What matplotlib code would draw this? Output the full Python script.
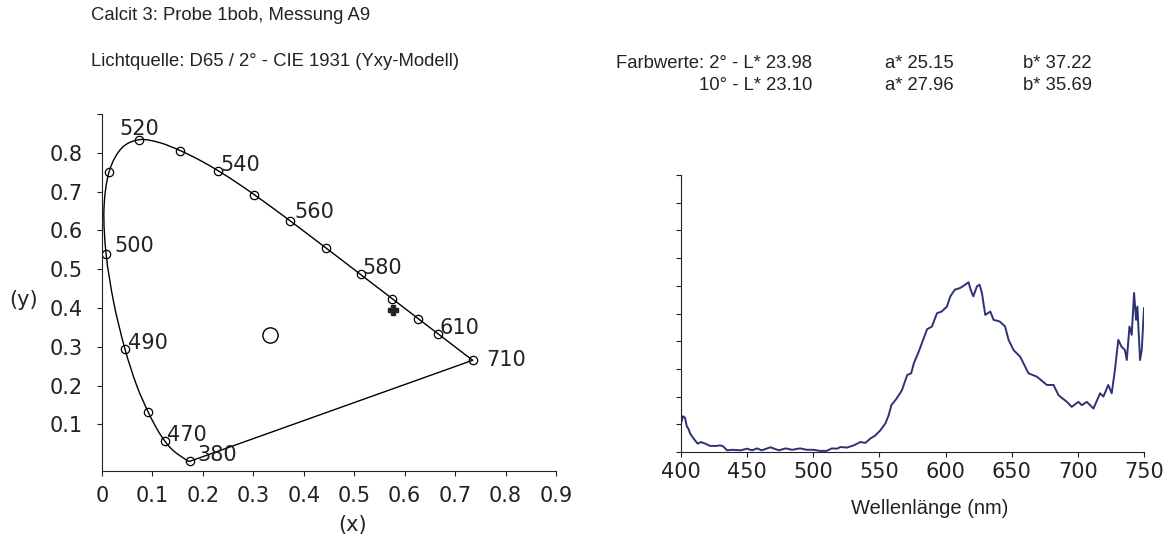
import matplotlib.pyplot as plt
import numpy as np
from matplotlib.path import Path
from matplotlib.patches import PathPatch

# CIE 1931 spectral locus (x, y) used for the horseshoe curve
locus_nm = [380, 390, 400, 410, 420, 425, 430, 435, 440, 445, 450, 455, 460, 465,
            470, 475, 480, 485, 490, 495, 500, 505, 510, 515, 520, 525, 530, 535,
            540, 545, 550, 555, 560, 565, 570, 575, 580, 585, 590, 595, 600, 605,
            610, 620, 630, 640, 650, 660, 680, 710]
locus_x = [0.1741, 0.1738, 0.1733, 0.1726, 0.1714, 0.1703, 0.1689, 0.1669, 0.1644, 0.1611,
           0.1566, 0.1510, 0.1440, 0.1355, 0.1241, 0.1096, 0.0913, 0.0687, 0.0454, 0.0235,
           0.0082, 0.0039, 0.0139, 0.0389, 0.0743, 0.1142, 0.1547, 0.1929, 0.2296, 0.2658,
           0.3016, 0.3373, 0.3731, 0.4087, 0.4441, 0.4788, 0.5125, 0.5448, 0.5752, 0.6029,
           0.6270, 0.6482, 0.6658, 0.6915, 0.7079, 0.7190, 0.7260, 0.7300, 0.7334, 0.7347]
locus_y = [0.0050, 0.0049, 0.0048, 0.0048, 0.0051, 0.0058, 0.0069, 0.0086, 0.0109, 0.0138,
           0.0177, 0.0227, 0.0297, 0.0399, 0.0578, 0.0868, 0.1327, 0.2007, 0.2950, 0.4127,
           0.5384, 0.6548, 0.7502, 0.8120, 0.8338, 0.8262, 0.8059, 0.7816, 0.7543, 0.7243,
           0.6923, 0.6589, 0.6245, 0.5896, 0.5547, 0.5202, 0.4866, 0.4544, 0.4242, 0.3965,
           0.3725, 0.3514, 0.3340, 0.3083, 0.2920, 0.2809, 0.2740, 0.2700, 0.2666, 0.2653]

marker_nm = [380, 470, 480, 490, 500, 510, 520, 530, 540, 550, 560, 570, 580, 590, 600, 610, 710]
label_nm = [380, 470, 490, 500, 520, 540, 560, 580, 610, 710]

white_point = (0.3333, 0.3300)
sample_point = (0.577, 0.394)

# reflectance spectrum (arbitrary units)
wl = [400, 401.5, 403, 404.5, 405.5, 407, 409.6, 412.6, 415, 418.4, 422, 427, 429.7, 432,
      434.8, 438.6, 445, 450, 453.7, 457.5, 461, 467.6, 474, 479, 484, 490, 495, 500,
      505, 510, 514, 518, 520.5, 525.5, 530.6, 535.6, 539.4, 543, 547, 550.8, 554.5,
      557, 559, 563, 567, 571, 574, 576, 579.7, 586, 589.7, 593.5, 597, 601, 603.6,
      607, 611, 613.6, 617.4, 619, 621, 623.7, 625.7, 627.5, 630, 633.8, 636.3, 641,
      645, 647.6, 651.4, 656.4, 662.7, 669, 676.6, 681.6, 685.4, 691.7, 695.4, 700.4,
      703, 706.7, 711.8, 716.8, 719.3, 723, 725.6, 728, 730.6, 733, 735.6, 737, 739,
      740.7, 742.5, 744, 745, 747, 748.3, 750]
refl = [1.03, 1.29, 1.24, 0.91, 0.85, 0.66, 0.48, 0.30, 0.36, 0.30, 0.22, 0.22, 0.24, 0.20,
        0.06, 0.08, 0.06, 0.12, 0.06, 0.13, 0.06, 0.17, 0.06, 0.13, 0.08, 0.13, 0.08, 0.08,
        0.04, 0.04, 0.13, 0.12, 0.18, 0.16, 0.24, 0.36, 0.33, 0.48, 0.60, 0.79, 1.03,
        1.33, 1.69, 1.93, 2.23, 2.78, 2.84, 3.20, 3.62, 4.43, 4.53, 5.01, 5.07, 5.25, 5.62,
        5.86, 5.92, 6.00, 6.13, 5.85, 5.62, 5.98, 6.04, 5.74, 4.95, 5.07, 4.77, 4.71,
        4.53, 4.05, 3.68, 3.44, 2.84, 2.72, 2.42, 2.42, 2.05, 1.81, 1.63, 1.81,
        1.69, 1.81, 1.57, 2.12, 2.00, 2.42, 2.12, 2.96, 4.05, 3.80, 3.68, 3.32, 4.53,
        4.23, 5.74, 4.77, 5.25, 3.32, 3.68, 5.19]


def smooth_path(xs, ys):
    # smoothed line through the points (Catmull-Rom segments as cubic Beziers)
    p = np.column_stack([xs, ys])
    verts = [p[0]]
    codes = [Path.MOVETO]
    for i in range(len(p) - 1):
        p0 = p[max(i - 1, 0)]
        p1, p2 = p[i], p[i + 1]
        p3 = p[min(i + 2, len(p) - 1)]
        verts += [p1 + (p2 - p0) / 6, p2 - (p3 - p1) / 6, p2]
        codes += [Path.CURVE4] * 3
    return Path(verts, codes)


W, H = 1169, 537
fig = plt.figure(figsize=(W / 100, H / 100), dpi=100)
tick_font = 'DejaVu Sans'
txt_font = 'Liberation Sans'
dark = '#222222'
fs = 15

# ---- chromaticity diagram ----
ax1 = fig.add_axes([102 / W, (H - 471) / H, (556 - 102) / W, (471 - 114) / H])
ax1.add_patch(PathPatch(smooth_path(locus_x, locus_y), fill=False, ec='black', lw=1.0))
ax1.plot([locus_x[0], locus_x[-1]], [locus_y[0], locus_y[-1]], color='black', lw=1.0)
mx = [locus_x[locus_nm.index(n)] for n in marker_nm]
my = [locus_y[locus_nm.index(n)] for n in marker_nm]
ax1.plot(mx, my, 'o', ms=6, mfc='none', mec='black', mew=0.9)
ax1.plot(*white_point, 'o', ms=11, mfc='none', mec='black', mew=1.0)
ax1.plot(*sample_point, 'P', ms=7, color='#222222')

offsets = {380: (8, 0, 'baseline'), 470: (2, 0, 'baseline'), 490: (3, 0, 'baseline'),
           500: (8, 2, 'baseline'), 520: (-20, 5, 'baseline'), 540: (3, 0, 'baseline'),
           560: (4, 3, 'baseline'), 580: (2, 0, 'baseline'), 610: (2, 0, 'baseline'),
           710: (14, 0, 'center')}
for n in label_nm:
    i = locus_nm.index(n)
    dx, dy, va = offsets[n]
    ax1.annotate(str(n), (locus_x[i], locus_y[i]), xytext=(dx, dy),
                 textcoords='offset pixels', ha='left', va=va,
                 fontsize=fs, family=tick_font, color=dark)

ax1.set_xlim(0, 0.9)
ax1.set_ylim(-0.02, 0.9)
ax1.set_xticks(np.arange(0, 0.91, 0.1))
ax1.set_xticklabels(['0'] + ['%.1f' % v for v in np.arange(0.1, 0.91, 0.1)])
ax1.set_yticks(np.arange(0.1, 0.91, 0.1))
ax1.set_yticklabels(['%.1f' % v for v in np.arange(0.1, 0.81, 0.1)] + [''])
for s in ['top', 'right']:
    ax1.spines[s].set_visible(False)
for s in ['left', 'bottom']:
    ax1.spines[s].set_color(dark)
ax1.tick_params(direction='out', length=3.6, width=0.8, colors=dark, labelsize=fs)
ax1.tick_params(axis='y', pad=10)
ax1.tick_params(axis='x', pad=7)
for lab in ax1.get_xticklabels() + ax1.get_yticklabels():
    lab.set_family(tick_font)
fig.text(24 / W, 1 - 300 / H, '(y)', ha='center', va='center', fontsize=fs,
         family=tick_font, color=dark)
fig.text(353 / W, 1 - 525 / H, '(x)', ha='center', va='center', fontsize=fs,
         family=tick_font, color=dark)

# ---- spectrum ----
ax2 = fig.add_axes([681 / W, (H - 452) / H, (1144 - 681) / W, (452 - 175) / H])
ax2.plot(wl, refl, color='#2d3275', lw=1.4)
ax2.set_xlim(400, 750)
ax2.set_ylim(0, 10)
ax2.set_xticks(range(400, 751, 50))
ax2.set_yticks(range(0, 11))
ax2.set_yticklabels([])
for s in ['top', 'right']:
    ax2.spines[s].set_visible(False)
for s in ['left', 'bottom']:
    ax2.spines[s].set_color(dark)
ax2.tick_params(direction='out', length=3.6, width=0.8, colors=dark, labelsize=fs)
for lab in ax2.get_xticklabels():
    lab.set_family(tick_font)
fig.text(930 / W, 1 - 508 / H, 'Wellenlänge (nm)', ha='center', va='center',
         fontsize=14.5, family=txt_font, color=dark)

# ---- header texts ----
hs = 13.3
fig.text(91 / W, 1 - 16 / H, 'Calcit 3: Probe 1bob, Messung A9', ha='left', va='center',
         fontsize=hs, family=txt_font, color=dark)
fig.text(91 / W, 1 - 62 / H, 'Lichtquelle: D65 / 2° - CIE 1931 (Yxy-Modell)', ha='left',
         va='center', fontsize=hs, family=txt_font, color=dark)
rows = [('Farbwerte: 2° - L* 23.98', 'a* 25.15', 'b* 37.22', 64),
        ('10° - L* 23.10', 'a* 27.96', 'b* 35.69', 86)]
for lval, aval, bval, yy in rows:
    fig.text(812 / W, 1 - yy / H, lval, ha='right', va='center', fontsize=hs,
             family=txt_font, color=dark)
    fig.text(885 / W, 1 - yy / H, aval, ha='left', va='center', fontsize=hs,
             family=txt_font, color=dark)
    fig.text(1023 / W, 1 - yy / H, bval, ha='left', va='center', fontsize=hs,
             family=txt_font, color=dark)

fig.savefig('out.png', dpi=100)
